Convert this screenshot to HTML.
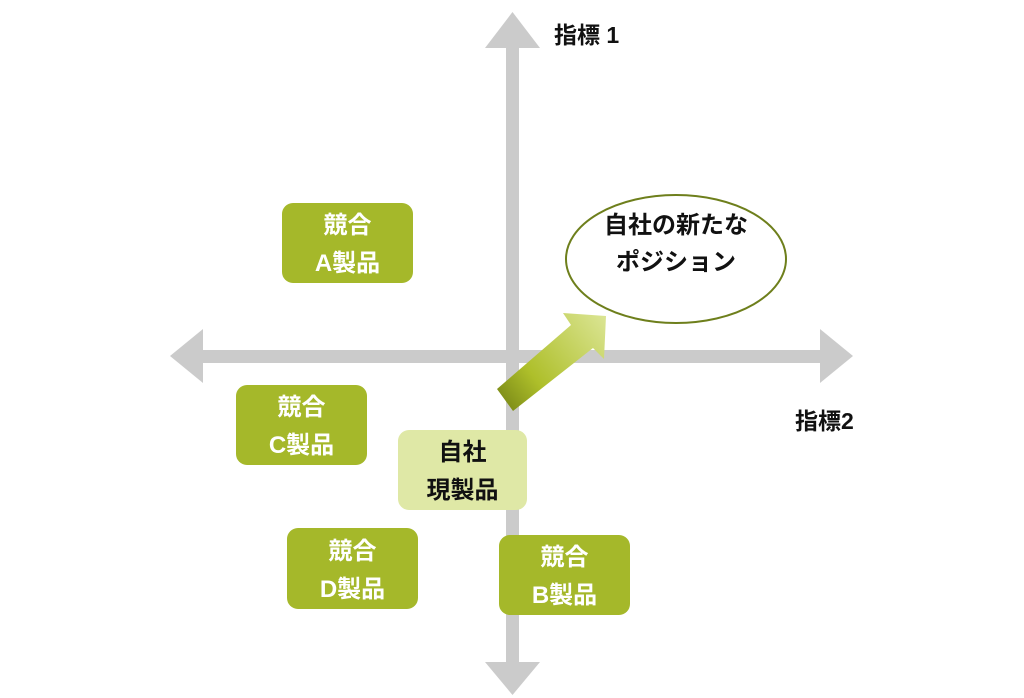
<!DOCTYPE html>
<html><head><meta charset="utf-8"><style>
body{margin:0;background:#fff;width:1024px;height:698px;overflow:hidden;position:relative;font-family:"Liberation Sans","Noto Sans CJK JP",sans-serif}
.b{position:absolute;background:#a5b82a;border-radius:11px;color:#fff;font-weight:bold;font-size:24px;line-height:38px;text-align:center;display:flex;align-items:center;justify-content:center;padding-top:4px;box-sizing:border-box}
.t{position:absolute;font-weight:bold;font-size:23px;color:#111}
</style></head><body>
<svg width="1024" height="698" style="position:absolute;left:0;top:0">
<defs><linearGradient id="g" x1="500" y1="400" x2="606" y2="316" gradientUnits="userSpaceOnUse">
<stop offset="0" stop-color="#7d8c18"/><stop offset="0.3" stop-color="#aebf2a"/><stop offset="1" stop-color="#dbe594"/></linearGradient></defs>
<g fill="#cbcbcb">
<rect x="506" y="48" width="13" height="620"/>
<polygon points="512.5,12 485,48 540,48"/>
<polygon points="512.5,695 485,662 540,662"/>
<rect x="200" y="350" width="622" height="13"/>
<polygon points="170,356 203,329 203,383"/>
<polygon points="853,356 820,329 820,383"/>
</g>
<polygon fill="url(#g)" points="497,389 571,325 563,313 606,316 604,359 593,348 513,411"/>
<ellipse cx="676" cy="259" rx="110" ry="64" fill="#fff" stroke="#6e7f1c" stroke-width="2"/>
</svg>
<div class="t" style="left:554px;top:16px">指標 1</div>
<div class="t" style="left:795px;top:402px">指標2</div>
<div class="t" style="left:566px;top:207px;width:220px;text-align:center;line-height:37px;font-size:24px">自社の新たな<br>ポジション</div>
<div class="b" style="left:282px;top:203px;width:131px;height:80px">競合<br>A製品</div>
<div class="b" style="left:236px;top:385px;width:131px;height:80px">競合<br>C製品</div>
<div class="b" style="left:287px;top:528px;width:131px;height:81px">競合<br>D製品</div>
<div class="b" style="left:499px;top:535px;width:131px;height:80px">競合<br>B製品</div>
<div class="b" style="left:398px;top:430px;width:129px;height:80px;background:#dfe8a6;color:#111">自社<br>現製品</div>
</body></html>
